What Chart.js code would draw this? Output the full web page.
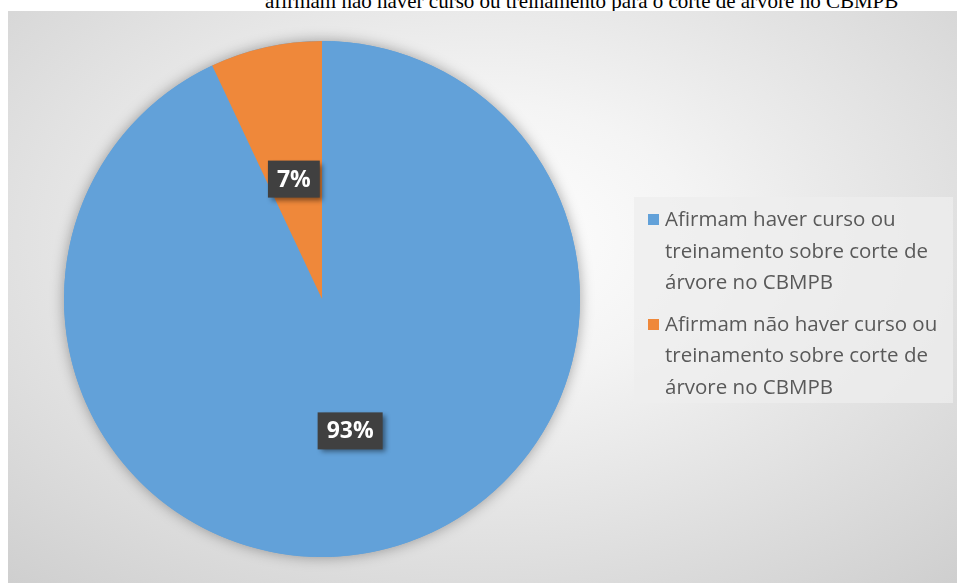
<!DOCTYPE html>
<html>
<head>
<meta charset="utf-8">
<script src="https://cdn.jsdelivr.net/npm/chart.js@4"></script>
<style>
  html, body { margin: 0; padding: 0; background: #fff; }
  body { width: 958px; height: 583px; position: relative; overflow: hidden; }
  #caption {
    position: absolute; left: 265px; top: -11px;
    font: 21px "Liberation Serif", "Times New Roman", serif; color: #000;
    white-space: nowrap;
  }
  #panel {
    position: absolute; left: 8px; top: 11px; width: 949px; height: 572px;
    background: radial-gradient(ellipse 75% 80% at 50% 40%, #ffffff 0%, #f4f4f4 30%, #dcdcdc 75%, #cfcfcf 100%);
  }
  #chart { position: absolute; left: 0; top: 0; }
  #legend {
    position: absolute; left: 626px; top: 186px; width: 319px; height: 206px;
    background: rgba(238,238,238,0.75);
    font: 20.5px "Open Sans", "Noto Sans", sans-serif; color: #595959;
    box-sizing: border-box; padding: 6px 0 0 31px;
  }
  .item { position: relative; margin-bottom: 10px; line-height: 31.5px; }
  .swatch { position: absolute; left: -17px; top: 11px; width: 11px; height: 11px; }
</style>
</head>
<body>
<div id="caption">afirmam não haver curso ou treinamento para o corte de árvore no CBMPB</div>
<div id="panel">
  <canvas id="chart" width="949" height="572"></canvas>
  <div id="legend"></div>
</div>
<script>
const LABELS = [
  ['Afirmam haver curso ou', 'treinamento sobre corte de', 'árvore no CBMPB'],
  ['Afirmam não haver curso ou', 'treinamento sobre corte de', 'árvore no CBMPB'],
];
const VALUES = [93, 7];
const PERCENT_TEXT = ['93%', '7%'];
const COLORS = ['#62A1D9', '#EF883A'];

/** Soft shadow behind the whole pie */
const pieShadow = {
  id: 'pieShadow',
  beforeDatasetsDraw(chart) {
    const arc = chart.getDatasetMeta(0).data[0];
    if (!arc) return;
    const { ctx } = chart;
    ctx.save();
    ctx.shadowColor = 'rgba(0,0,0,0.35)';
    ctx.shadowBlur = 14;
    ctx.beginPath();
    ctx.arc(arc.x, arc.y, arc.outerRadius, 0, Math.PI * 2);
    ctx.fillStyle = COLORS[0];
    ctx.fill();
    ctx.restore();
  },
};

/** Dark boxed percentage labels at slice centres */
const boxLabels = {
  id: 'boxLabels',
  afterDatasetsDraw(chart) {
    const { ctx } = chart;
    chart.getDatasetMeta(0).data.forEach((arc, i) => {
      const c = arc.getCenterPoint();
      const x = c.x, y = c.y + 6;
      const text = PERCENT_TEXT[i];
      ctx.save();
      ctx.font = 'bold 23px "Open Sans", "Noto Sans", sans-serif';
      const w = ctx.measureText(text).width + 18;
      const h = 37;
      ctx.shadowColor = 'rgba(0,0,0,0.45)';
      ctx.shadowBlur = 5;
      ctx.shadowOffsetX = 3;
      ctx.shadowOffsetY = 3;
      ctx.fillStyle = '#404040';
      ctx.fillRect(x - w / 2, y - h / 2, w, h);
      ctx.shadowColor = 'transparent';
      ctx.fillStyle = '#ffffff';
      ctx.textAlign = 'center';
      ctx.textBaseline = 'middle';
      ctx.fillText(text, x, y + 1);
      ctx.restore();
    });
  },
};

new Chart(document.getElementById('chart'), {
  type: 'pie',
  data: {
    labels: LABELS,
    datasets: [{
      data: VALUES,
      backgroundColor: COLORS,
      borderWidth: 0,
    }],
  },
  options: {
    responsive: false,
    animation: false,
    layout: { padding: { left: 56, top: 30, right: 377, bottom: 26 } },
    plugins: {
      legend: { display: false },
      tooltip: { enabled: false },
    },
  },
  plugins: [pieShadow, boxLabels],
});

// HTML legend (multi-line entries)
const legend = document.getElementById('legend');
LABELS.forEach((lines, i) => {
  const item = document.createElement('div');
  item.className = 'item';
  const sw = document.createElement('span');
  sw.className = 'swatch';
  sw.style.background = COLORS[i];
  item.appendChild(sw);
  lines.forEach((line, j) => {
    if (j) item.appendChild(document.createElement('br'));
    item.appendChild(document.createTextNode(line));
  });
  legend.appendChild(item);
});
</script>
</body>
</html>
